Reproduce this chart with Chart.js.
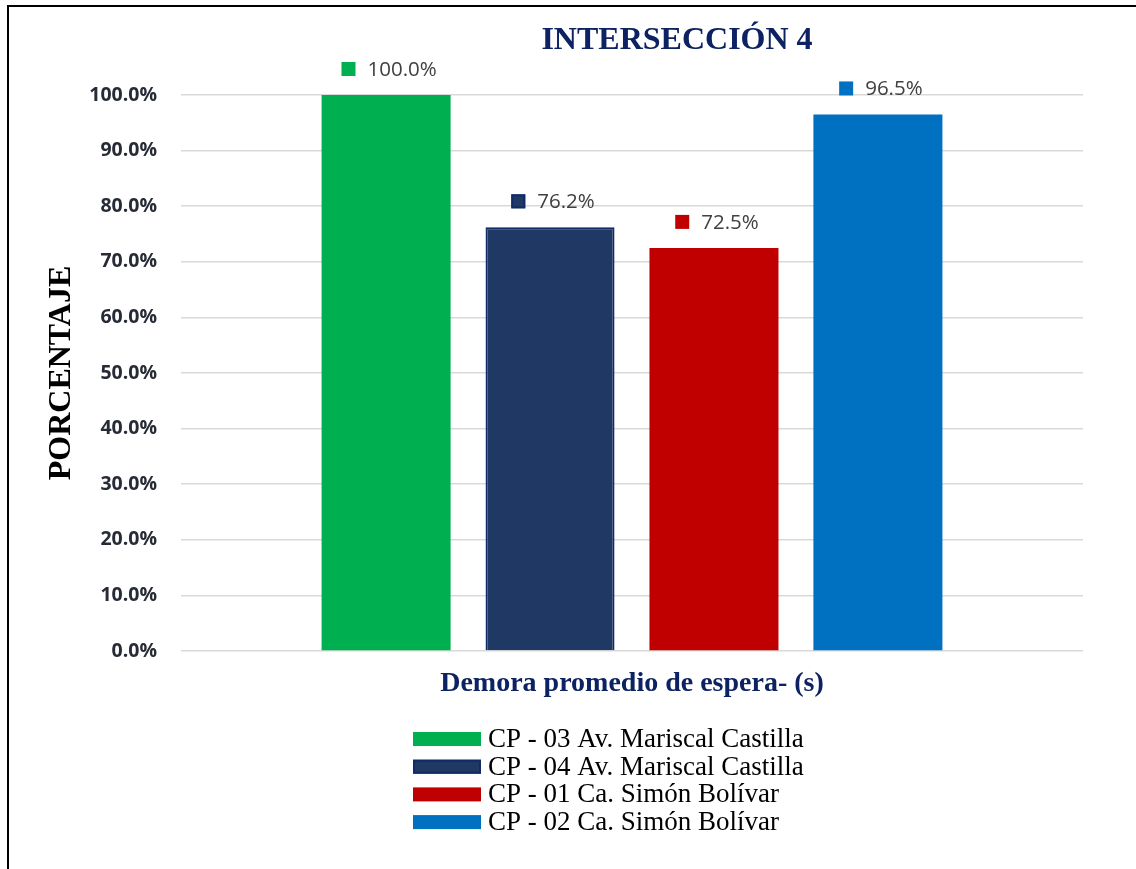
<!DOCTYPE html>
<html>
<head>
<meta charset="utf-8">
<script src="https://cdn.jsdelivr.net/npm/chart.js@4/dist/chart.umd.min.js"></script>
<style>
  html, body { margin: 0; padding: 0; background: #fff; }
  #frame { position: absolute; left: 7px; top: 5px; width: 1140px; height: 880px;
           border-left: 2px solid #000; border-top: 2px solid #000; }
  #chart { position: absolute; left: 0; top: 0; }
</style>
</head>
<body>
<div id="frame"></div>
<canvas id="chart" width="1136" height="869"></canvas>
<script>
// series shown as one group of bars
var seriesNames = [
  'CP - 03 Av. Mariscal Castilla',
  'CP - 04 Av. Mariscal Castilla',
  'CP - 01 Ca. Simón Bolívar',
  'CP - 02 Ca. Simón Bolívar'
]
var seriesValues = [100.0, 76.2, 72.5, 96.5]
var categories = ['']
var yTicks = [0, 10, 20, 30, 40, 50, 60, 70, 80, 90, 100]

var fillColors = ['#00b050', '#203864', '#c00000', '#0070c0']
var edgeColors = ['#00b050', '#0f2b68', '#c00000', '#0070c0']
var navy = '#0d2262'

var datasets = seriesNames.map(function (name, i) {
  return {
    label: name,
    data: [seriesValues[i]],
    backgroundColor: fillColors[i],
    borderColor: edgeColors[i],
    borderWidth: i == 1 ? 2 : 0,
    categoryPercentage: 0.727,
    barPercentage: 0.787
  }
})

// title, value labels and the stacked legend are painted here
var extras = {
  id: 'extras',
  afterDraw: function (chart) {
    var ctx = chart.ctx, area = chart.chartArea
    ctx.save()

    // title
    ctx.fillStyle = navy
    ctx.font = 'bold 32px "Liberation Serif", "Times New Roman", serif'
    ctx.textAlign = 'center'
    ctx.textBaseline = 'middle'
    ctx.fillText('INTERSECCIÓN 4', (area.left + area.right) / 2 + 45, 41)

    // value labels: small square + value
    ctx.font = '20.5px "Open Sans", sans-serif'
    ctx.textAlign = 'left'
    chart.data.datasets.forEach(function (ds, i) {
      var bar = chart.getDatasetMeta(i).data[0]
      var txt = ds.data[0].toFixed(1) + '%'
      var w = ctx.measureText(txt).width
      var total = 14 + 12 + w
      var x0 = bar.x - total / 2 + 3
      var cy = bar.y - 26
      ctx.fillStyle = ds.backgroundColor
      ctx.fillRect(x0, cy - 7, 14, 14)
      if (ds.borderWidth) {
        ctx.strokeStyle = ds.borderColor
        ctx.lineWidth = 2
        ctx.strokeRect(x0 + 1, cy - 6, 12, 12)
      }
      ctx.fillStyle = '#404040'
      ctx.fillText(txt, x0 + 26, cy + 1)
    })

    // legend, one entry per line
    ctx.font = '27px "Liberation Serif", "Times New Roman", serif'
    var lx = area.left + 232
    var ly = area.bottom + 81
    chart.data.datasets.forEach(function (ds, i) {
      var y = ly + i * 27.7
      ctx.fillStyle = ds.backgroundColor
      ctx.fillRect(lx, y, 68, 14)
      if (ds.borderWidth) {
        ctx.strokeStyle = ds.borderColor
        ctx.lineWidth = 2
        ctx.strokeRect(lx + 1, y + 1, 66, 12)
      }
      ctx.fillStyle = '#000'
      ctx.fillText(ds.label, lx + 75, y + 8)
    })
    ctx.restore()
  }
}

new Chart(document.getElementById('chart'), {
  type: 'bar',
  data: { labels: categories, datasets: datasets },
  plugins: [extras],
  options: {
    responsive: false,
    animation: false,
    devicePixelRatio: 1,
    layout: { padding: { top: 95, right: 53, bottom: 158, left: 0 } },
    plugins: {
      legend: { display: false },
      tooltip: { enabled: false },
      title: { display: false }
    },
    scales: {
      x: {
        grid: { display: false },
        border: { display: false },
        ticks: { display: false },
        title: {
          display: true,
          text: 'Demora promedio de espera- (s)',
          color: navy,
          font: { family: '"Liberation Serif", "Times New Roman", serif', size: 28, weight: 'bold' },
          padding: { top: 0, bottom: 10 }
        },
        afterFit: function (s) { s.height = 60 }
      },
      y: {
        min: 0,
        max: 100,
        afterBuildTicks: function (s) { s.ticks = yTicks.map(function (v) { return { value: v } }) },
        ticks: {
          padding: 24,
          color: '#262b36',
          font: { family: '"Open Sans", sans-serif', size: 19.5, weight: 'bold' },
          callback: function (v) { return v.toFixed(1) + '%' }
        },
        grid: { color: '#d9d9d9', lineWidth: 1.5, drawTicks: false },
        border: { display: false },
        title: {
          display: true,
          text: 'PORCENTAJE',
          color: '#000',
          font: { family: '"Liberation Serif", "Times New Roman", serif', size: 32, weight: 'bold' },
          padding: { top: 43, bottom: 0 }
        },
        afterFit: function (s) { s.width = 181 }
      }
    }
  }
})
</script>
</body>
</html>
